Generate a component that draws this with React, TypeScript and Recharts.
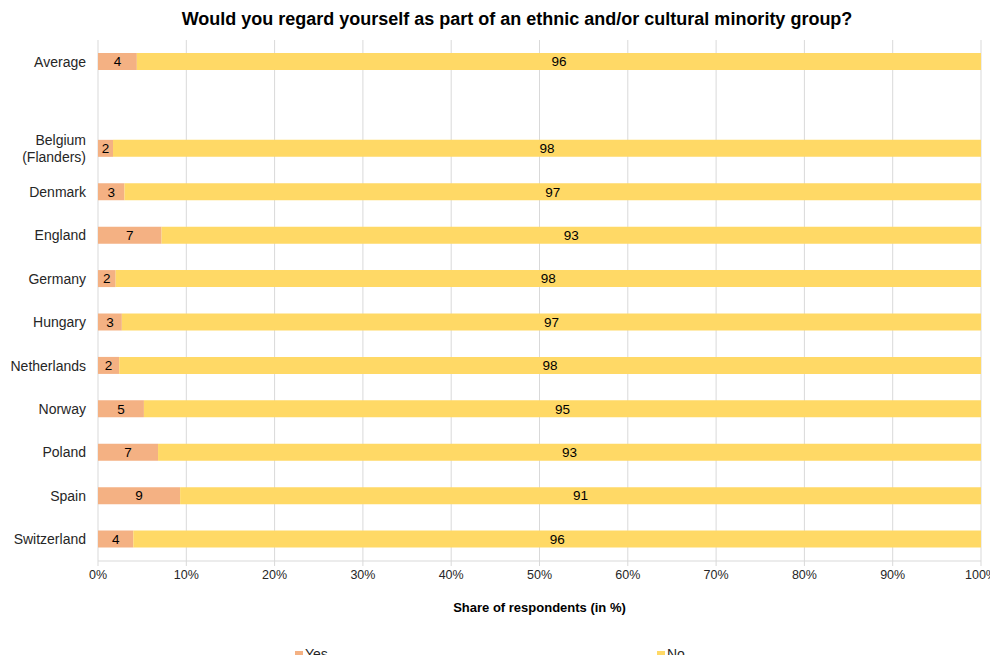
import { BarChart, Bar, XAxis, YAxis, CartesianGrid, Legend, LabelList } from "recharts";

const categories = [
  "Average",
  "",
  "Belgium\n(Flanders)",
  "Denmark",
  "England",
  "Germany",
  "Hungary",
  "Netherlands",
  "Norway",
  "Poland",
  "Spain",
  "Switzerland",
];

// share answering "Yes" / "No" in %, the blank row is the gap after Average
const yesShare = [4.4, null, 1.7, 3.0, 7.2, 2.0, 2.7, 2.4, 5.2, 6.8, 9.3, 4.0];
const noShare = [95.6, null, 98.3, 97.0, 92.8, 98.0, 97.3, 97.6, 94.8, 93.2, 90.7, 96.0];

const seriesNames = ["Yes", "No"];
const xTicks = [0, 10, 20, 30, 40, 50, 60, 70, 80, 90, 100];

const YES_COLOR = "#F4B183";
const NO_COLOR = "#FFD966";
const FONT = "'Liberation Sans', Arial, sans-serif";

const data = categories.map((name, i) => ({
  name,
  yes: yesShare[i],
  no: noShare[i],
}));

const roundLabel = (v: any) => (v == null ? "" : Math.round(Number(v)));

const CountryTick = (props: any) => {
  const { x, y, payload } = props;
  const lines = String(payload.value).split("\n");
  const lineH = 17;
  const startDy = -((lines.length - 1) * lineH) / 2;
  return (
    <text x={x} y={y} textAnchor="end" fill="#262626" fontSize={14} fontFamily={FONT} dominantBaseline="central">
      {lines.map((l, i) => (
        <tspan key={i} x={x} dy={i === 0 ? startDy : lineH}>
          {l}
        </tspan>
      ))}
    </text>
  );
};

const renderLegend = (props: any) => {
  const items = [...(props.payload || [])].sort(
    (a: any, b: any) => seriesNames.indexOf(a.value) - seriesNames.indexOf(b.value)
  );
  const lefts = [295, 657];
  return (
    <div style={{ position: "relative", width: 998, height: 50, fontFamily: FONT, fontSize: 14, color: "#262626" }}>
      {items.map((it: any, i: number) => (
        <div
          key={it.value}
          style={{ position: "absolute", left: lefts[i], top: 34, display: "flex", alignItems: "center", lineHeight: "15px" }}
        >
          <span style={{ display: "inline-block", width: 8, height: 8, background: it.color, marginRight: 2 }} />
          <span>{it.value}</span>
        </div>
      ))}
    </div>
  );
};

export default function App() {
  return (
    <div style={{ position: "relative", width: 998, height: 663, background: "#fff", margin: -8 }}>
      <div
        style={{
          position: "absolute",
          top: 9,
          left: 0,
          width: 1034,
          textAlign: "center",
          fontFamily: FONT,
          fontWeight: "bold",
          fontSize: 18,
          color: "#000",
        }}
      >
        Would you regard yourself as part of an ethnic and/or cultural minority group?
      </div>
      <BarChart
        width={998}
        height={663}
        data={data}
        layout="vertical"
        margin={{ top: 40, right: 17, bottom: 0, left: 0 }}
        barSize={17}
      >
        <CartesianGrid horizontal={false} stroke="#D9D9D9" />
        <XAxis
          type="number"
          domain={[0, 100]}
          ticks={xTicks}
          tickFormatter={(v) => `${v}%`}
          height={52}
          axisLine={{ stroke: "#D9D9D9" }}
          tickLine={{ stroke: "#D9D9D9" }}
          tickSize={5}
          tickMargin={4}
          tick={{ fontSize: 12.5, fill: "#262626", fontFamily: FONT }}
          interval={0}
          label={{
            value: "Share of respondents (in %)",
            position: "insideBottom",
            offset: 1,
            style: { fontSize: 13, fontWeight: "bold", fill: "#000", fontFamily: FONT },
          }}
        />
        <YAxis
          type="category"
          dataKey="name"
          width={98}
          axisLine={false}
          tickLine={false}
          tickMargin={6}
          interval={0}
          tick={<CountryTick />}
        />
        <Legend verticalAlign="bottom" height={50} content={renderLegend} />
        <Bar dataKey="yes" name="Yes" stackId="a" fill={YES_COLOR} isAnimationActive={false}>
          <LabelList dataKey="yes" position="center" formatter={roundLabel} fill="#000" fontSize={13.5} fontFamily={FONT} />
        </Bar>
        <Bar dataKey="no" name="No" stackId="a" fill={NO_COLOR} isAnimationActive={false}>
          <LabelList dataKey="no" position="center" formatter={roundLabel} fill="#000" fontSize={13.5} fontFamily={FONT} />
        </Bar>
      </BarChart>
    </div>
  );
}
